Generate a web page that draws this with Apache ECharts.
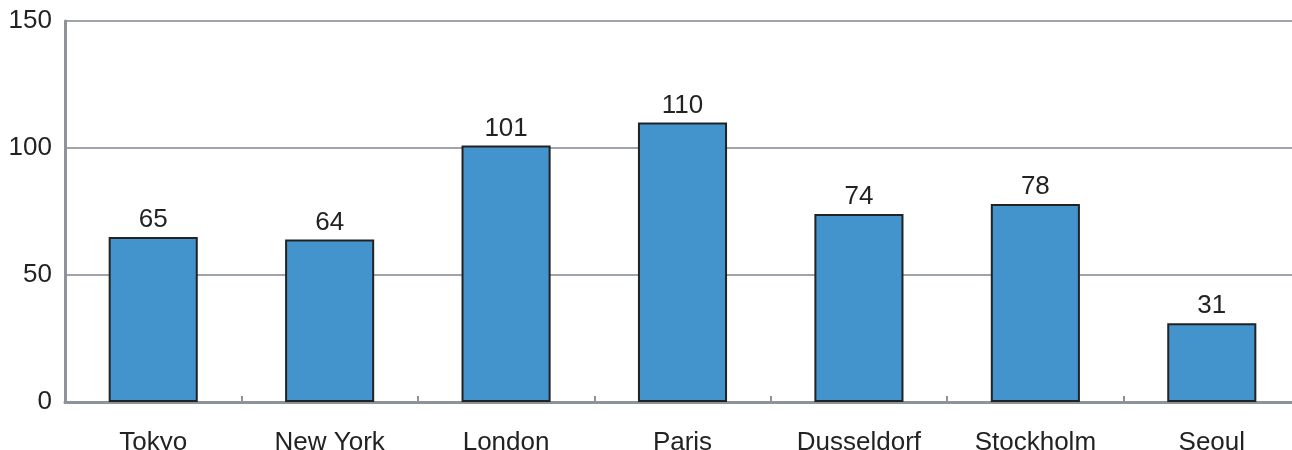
<!DOCTYPE html>
<html>
<head>
<meta charset="utf-8">
<script src="https://cdn.jsdelivr.net/npm/echarts@6/dist/echarts.min.js"></script>
<style>
  html, body { margin: 0; padding: 0; background: #fff; }
  #chart { width: 1292px; height: 450px; }
</style>
</head>
<body>
<div id="chart"></div>
<script>
// Cities and their values
const cities = ['Tokyo', 'New York', 'London', 'Paris', 'Dusseldorf', 'Stockholm', 'Seoul'];
const values = [65, 64, 101, 110, 74, 78, 31];
const yTicks = [0, 50, 100, 150];

const axisGray = '#8d9399';
const font = 'Liberation Sans, Arial, Helvetica, sans-serif';

const chart = echarts.init(document.getElementById('chart'), null, { renderer: 'canvas' });
chart.setOption({
  animation: false,
  // the plot area runs slightly past the right edge of the canvas
  grid: { left: 65, top: 21, width: 1235, height: 381, containLabel: false, outerBoundsMode: 'none' },
  xAxis: {
    type: 'category',
    data: cities,
    axisLine: { lineStyle: { color: axisGray, width: 3 } },
    axisTick: { show: true, inside: true, length: 6, lineStyle: { color: axisGray, width: 2 } },
    axisLabel: { color: '#222', fontFamily: font, fontSize: 26, margin: 28 }
  },
  yAxis: {
    type: 'value',
    min: yTicks[0],
    max: yTicks[yTicks.length - 1],
    interval: yTicks[1] - yTicks[0],
    axisLine: { show: true, lineStyle: { color: axisGray, width: 3 } },
    axisTick: { show: false },
    splitLine: { show: true, lineStyle: { color: '#9ea4aa', width: 2 } },
    axisLabel: { color: '#222', fontFamily: font, fontSize: 26, margin: 13 }
  },
  series: [{
    type: 'bar',
    data: values,
    barWidth: '50.5%',
    itemStyle: { color: '#4393cd', borderColor: '#222', borderWidth: 2 },
    label: { show: true, position: 'top', distance: 4, color: '#222', fontFamily: font, fontSize: 26 }
  }]
});
</script>
</body>
</html>
